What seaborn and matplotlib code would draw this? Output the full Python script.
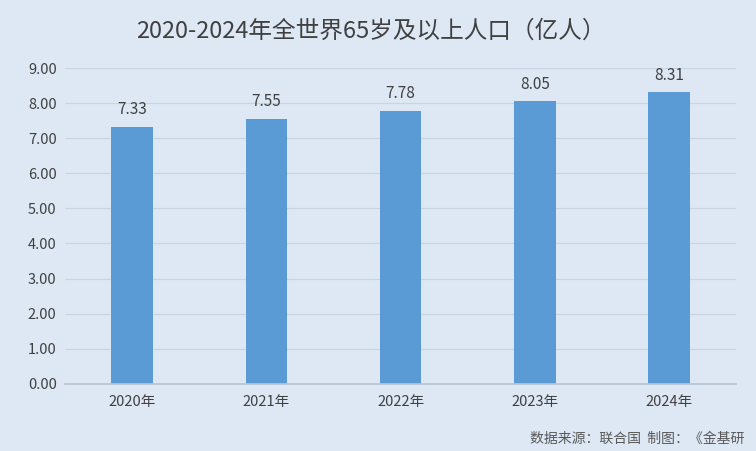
import matplotlib
matplotlib.use("Agg")
import matplotlib.pyplot as plt
import seaborn as sns
import pandas as pd

years = ["2020年", "2021年", "2022年", "2023年", "2024年"]
values = [7.33, 7.55, 7.78, 8.05, 8.31]
yticks = [0, 1, 2, 3, 4, 5, 6, 7, 8, 9]

sns.set_theme(style="white")
plt.rcParams['font.family'] = ['Noto Sans CJK SC', 'DejaVu Sans']

bg = "#dde8f4"
fig = plt.figure(figsize=(7.56, 4.51), dpi=100, facecolor=bg)
ax = fig.add_axes([0.086, 0.149, 0.888, 0.70], facecolor=bg)
df = pd.DataFrame({"year": years, "v": values})
sns.barplot(data=df, x="year", y="v", color="#5b9bd5", saturation=1, width=0.31,
            linewidth=0, edgecolor="none", ax=ax)
ax.set_xlim(-0.5, 4.5)
ax.set_ylim(0, 9)
ax.set_yticks(yticks)
ax.set_yticklabels([f"{t:.2f}" for t in yticks], color="#404040", fontsize=10.5)
ax.tick_params(axis="x", colors="#404040", labelsize=10.5, length=0, pad=8)
ax.tick_params(axis="y", length=0, pad=6)
ax.grid(axis="y", color="#c8d4e2", linewidth=0.8)
ax.set_axisbelow(True)
for s in ["top", "right", "left"]:
    ax.spines[s].set_visible(False)
ax.spines["bottom"].set_color("#b8c4d2")
ax.set_xlabel("")
ax.set_ylabel("")
for i, v in enumerate(values):
    ax.text(i, v + 0.25, f"{v:.2f}", ha="center", va="bottom", fontsize=11, color="#404040")
fig.text(0.49, 0.93, "2020-2024年全世界65岁及以上人口（亿人）", ha="center", va="center",
         fontsize=17, color="#404040")
fig.text(0.985, 0.028, "数据来源：联合国  制图：《金基研", ha="right", va="center",
         fontsize=10, color="#595959")
fig.savefig("out.png", dpi=100, facecolor=bg)
